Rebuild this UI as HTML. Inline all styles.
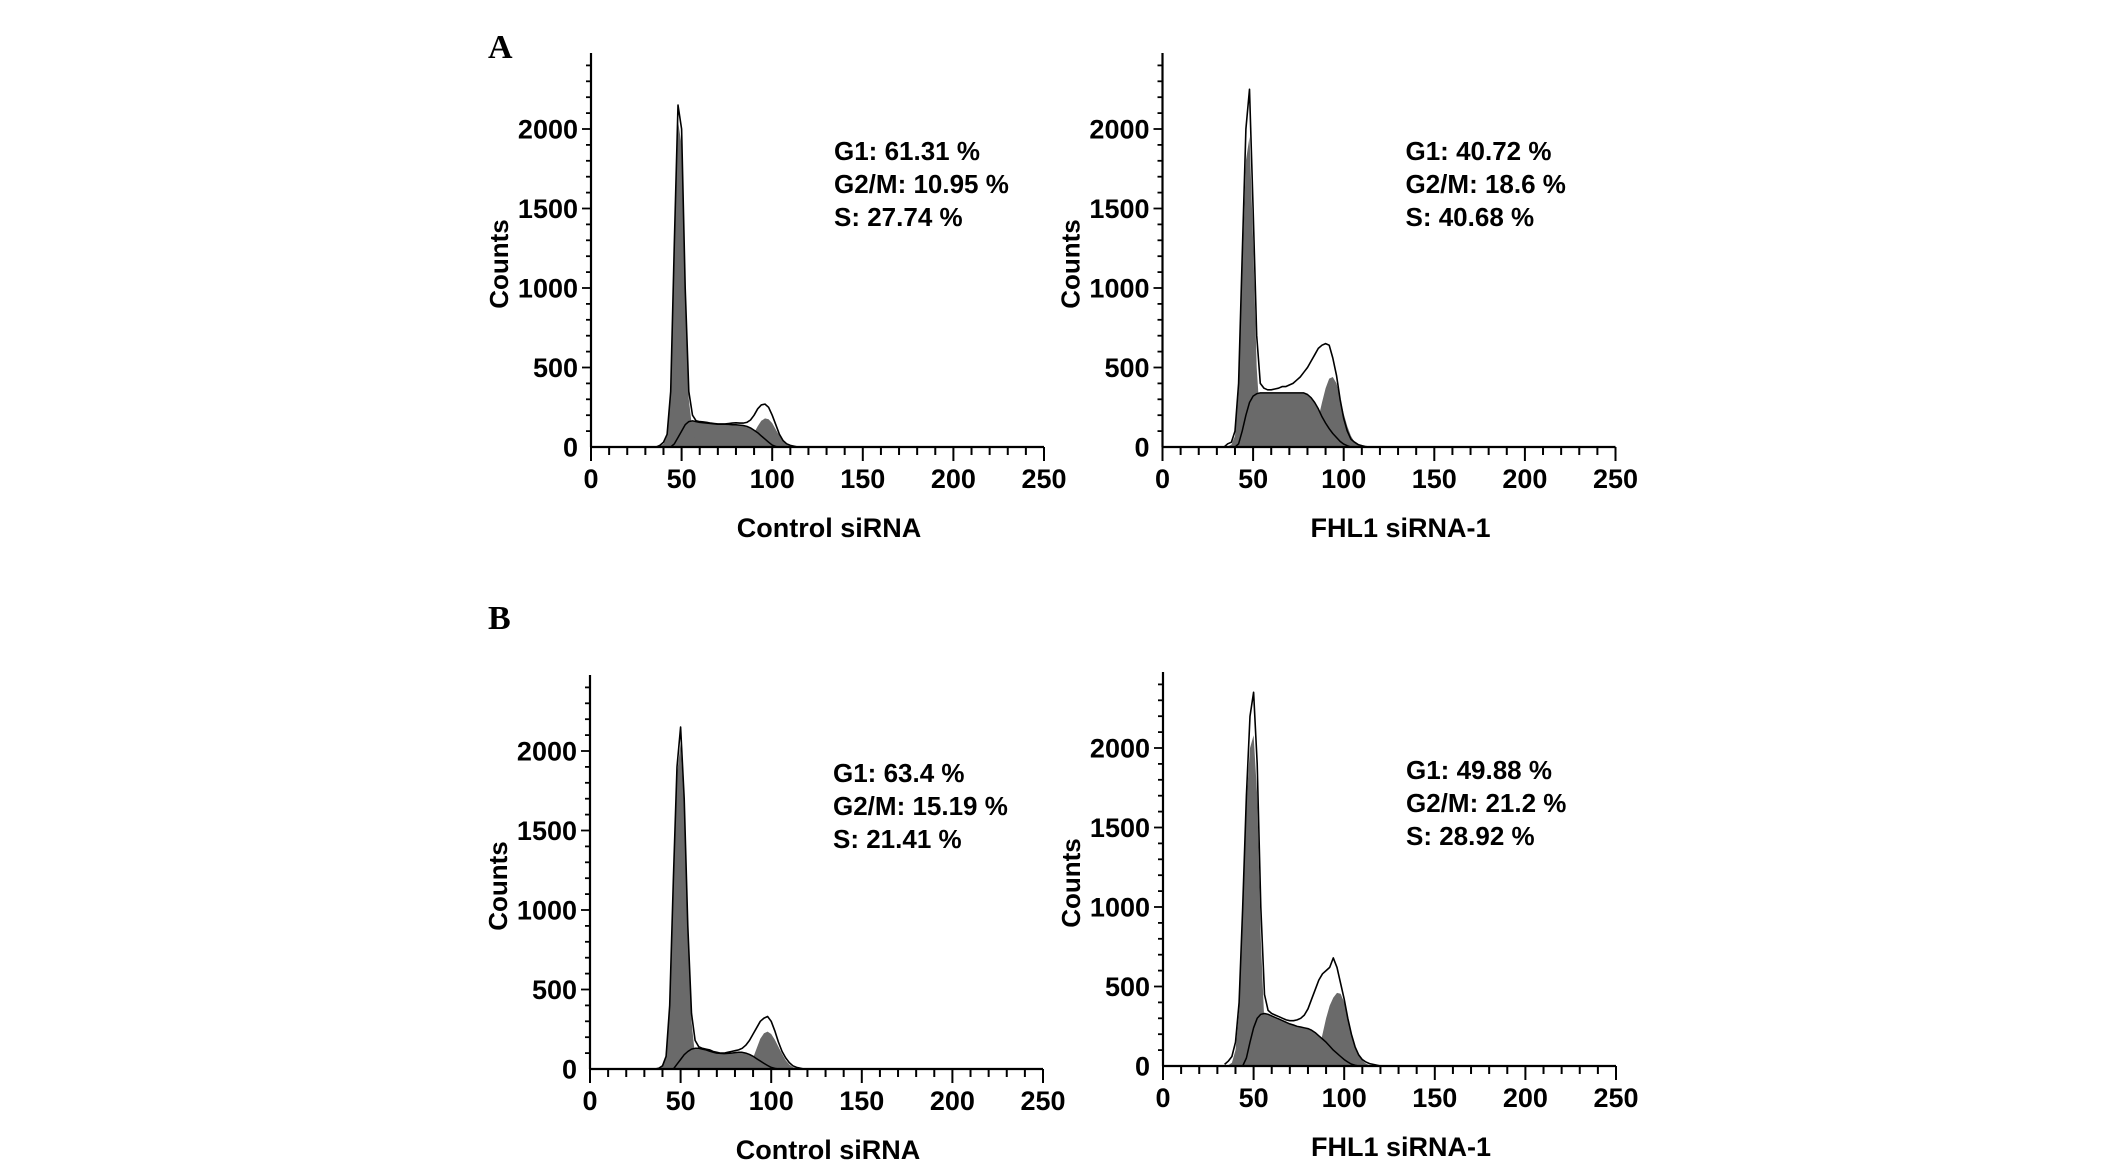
<!DOCTYPE html>
<html><head><meta charset="utf-8"><style>
html,body{margin:0;padding:0;background:#fff;}
svg text{font-family:"Liberation Sans",Arial,sans-serif;font-weight:bold;fill:#000;}
</style></head><body>
<svg id="fig" width="2126" height="1166" viewBox="0 0 2126 1166" xmlns="http://www.w3.org/2000/svg">
<text x="488" y="58" style="font-family:'Liberation Serif',serif;font-size:34px">A</text>
<text x="488" y="629" style="font-family:'Liberation Serif',serif;font-size:34px">B</text>
</svg>
<script>
const channels = [34,36,38,40,42,44,46,48,50,52,54,56,58,60,62,64,66,68,70,72,74,76,78,80,82,84,86,88,90,92,94,96,98,100,102,104,106,108,110,112,114,116,118,120];
const xTicks = [0,50,100,150,200,250];
const yTicks = [0,500,1000,1500,2000];

const aLeftRaw = [0,0,10,30,80,350,1300,2150,2000,1000, 350,200,165,160,158,155,150,148,145,145, 145,148,150,152,150,150,155,170,200,240, 265,270,250,200,140,80,40,20,10,5, 0,0,0,0];
const aLeftG1  = [0,0,5,20,70,330,1250,2050,1900,950, 300,100,30,5,0,0,0,0,0,0, 0,0,0,0,0,0,0,0,0,0, 0,0,0,0,0,0,0,0,0,0, 0,0,0,0];
const aLeftS   = [0,0,0,0,0,0,20,60,100,140, 160,165,160,155,152,150,148,145,143,143, 143,142,140,140,138,135,130,120,105,90, 70,50,30,12,3,0,0,0,0,0, 0,0,0,0];
const aLeftG2  = [0,0,0,0,0,0,0,0,0,0, 0,0,0,0,0,0,0,0,0,0, 0,0,0,0,0,0,20,50,90,130, 165,180,175,150,110,70,35,15,5,0, 0,0,0,0];

const aRightRaw = [0,20,30,100,400,1200,2000,2250,1500,700, 400,370,360,360,365,370,380,380,390,400, 420,440,470,500,540,580,620,640,650,640, 560,450,300,180,100,50,30,15,8,3, 0,0,0,0];
const aRightG1  = [0,5,15,70,350,1100,1800,1950,1300,500, 150,40,10,0,0,0,0,0,0,0, 0,0,0,0,0,0,0,0,0,0, 0,0,0,0,0,0,0,0,0,0, 0,0,0,0];
const aRightS   = [0,0,0,0,20,100,200,280,320,335, 340,340,340,340,340,340,340,340,340,340, 340,340,340,330,310,280,240,190,150,115, 85,60,35,18,8,0,0,0,0,0, 0,0,0,0];
const aRightG2  = [0,0,0,0,0,0,0,0,0,0, 0,0,0,0,0,0,0,0,0,0, 0,0,0,0,0,100,180,280,370,430, 440,400,310,210,130,70,30,10,3,0, 0,0,0,0];

const bLeftRaw = [0,0,5,20,80,400,1200,1900,2150,1700, 900,350,180,140,130,125,120,110,105,100, 100,105,110,115,120,130,150,180,220,260, 300,320,330,300,240,170,110,70,40,20, 10,5,0,0];
const bLeftG1  = [0,0,0,15,70,380,1150,1850,2050,1650, 850,300,80,20,5,0,0,0,0,0, 0,0,0,0,0,0,0,0,0,0, 0,0,0,0,0,0,0,0,0,0, 0,0,0,0];
const bLeftS   = [0,0,0,0,0,0,0,30,60,90, 110,125,130,130,125,120,112,105,100,98, 97,98,100,103,105,105,100,92,80,65, 50,35,22,10,4,0,0,0,0,0, 0,0,0,0];
const bLeftG2  = [0,0,0,0,0,0,0,0,0,0, 0,0,0,0,0,0,0,0,0,0, 0,0,0,0,0,0,0,30,70,130, 190,225,235,220,185,140,95,55,28,12, 5,0,0,0];

const bRightRaw = [10,30,60,150,400,1000,1700,2200,2350,1900, 1000,450,350,330,320,310,300,290,285,285, 290,300,320,360,420,480,540,580,600,620, 680,620,520,420,300,200,120,70,40,25, 15,10,5,0];
const bRightG1  = [0,5,20,100,350,950,1650,2000,2080,1700, 800,250,60,10,0,0,0,0,0,0, 0,0,0,0,0,0,0,0,0,0, 0,0,0,0,0,0,0,0,0,0, 0,0,0,0];
const bRightS   = [0,0,0,0,0,0,50,150,240,300, 325,330,325,315,305,295,285,275,265,258, 250,245,240,235,225,210,190,170,150,125, 100,80,60,40,25,12,5,0,0,0, 0,0,0,0];
const bRightG2  = [0,0,0,0,0,0,0,0,0,0, 0,0,0,0,0,0,0,0,0,0, 0,0,0,0,0,0,100,200,300,380, 430,460,455,400,310,210,130,70,35,15, 5,0,0,0];

const panelTitles = ["Control siRNA","FHL1 siRNA-1","Control siRNA","FHL1 siRNA-1"];
const panelStats = [
  ["G1: 61.31 %","G2/M: 10.95 %","S: 27.74 %"],
  ["G1: 40.72 %","G2/M: 18.6 %","S: 40.68 %"],
  ["G1: 63.4 %","G2/M: 15.19 %","S: 21.41 %"],
  ["G1: 49.88 %","G2/M: 21.2 %","S: 28.92 %"]
];
const panelSeries = [
  [aLeftRaw,aLeftG1,aLeftS,aLeftG2],
  [aRightRaw,aRightG1,aRightS,aRightG2],
  [bLeftRaw,bLeftG1,bLeftS,bLeftG2],
  [bRightRaw,bRightG1,bRightS,bRightG2]
];
const panelNames = ["a-control","a-fhl1","b-control","b-fhl1"];

const svg = document.getElementById('fig');
const NS = 'http://www.w3.org/2000/svg';
const layout = [{x0:591,y0:447},{x0:1162.5,y0:447},{x0:590,y0:1069},{x0:1163,y0:1066}];
const W = 453, PX_PER = 318/2000, TOP = 394;

function mk(tag, attrs, parent){
  const e = document.createElementNS(NS, tag);
  for (const k in attrs) e.setAttribute(k, attrs[k]);
  parent.appendChild(e);
  return e;
}

layout.forEach((L, p) => {
  const g = mk('g', {}, svg);
  
  
  const xs = v => L.x0 + v / 250 * W;
  const ys = v => L.y0 - v * PX_PER;
  const [raw, g1, s, g2] = panelSeries[p];

  function area(arr, name){
    let d = 'M' + xs(channels[0]) + ',' + ys(0);
    channels.forEach((c, i) => { d += ' L' + xs(c).toFixed(1) + ',' + ys(arr[i]).toFixed(1); });
    d += ' L' + xs(channels[channels.length-1]) + ',' + ys(0) + ' Z';
    const e = mk('path', {d: d, fill: '#6a6a6a', stroke: 'none'}, g);
    
    
  }
  function line(arr, name, w){
    let d = '';
    channels.forEach((c, i) => { d += (i ? ' L' : 'M') + xs(c).toFixed(1) + ',' + ys(arr[i]).toFixed(1); });
    const e = mk('path', {d: d, fill: 'none', stroke: '#000', 'stroke-width': w, 'stroke-linejoin': 'round'}, g);
    
    
  }
  area(s, 's-phase-fill');
  area(g1, 'g1-peak-fill');
  area(g2, 'g2m-peak-fill');
  line(s, 's-phase-curve', 1.5);
  line(raw, 'raw-data-outline', 1.6);

  const ya = mk('line', {x1: L.x0, y1: L.y0 - TOP, x2: L.x0, y2: L.y0, stroke: '#000', 'stroke-width': 2.2}, g);
  
  
  const xa = mk('line', {x1: L.x0, y1: L.y0, x2: L.x0 + W, y2: L.y0, stroke: '#000', 'stroke-width': 2.2}, g);
  
  
  for (let v = 0; v <= 250; v += 10) {
    const major = v % 50 === 0;
    mk('line', {x1: xs(v), y1: L.y0, x2: xs(v), y2: L.y0 + (major ? 14 : 8), stroke: '#000', 'stroke-width': 2}, g);
  }
  for (let v = 100; v <= 2400; v += 100) {
    const major = v % 500 === 0;
    mk('line', {x1: L.x0, y1: ys(v), x2: L.x0 - (major ? 9 : 5), y2: ys(v), stroke: '#000', 'stroke-width': 1.8}, g);
  }
  xTicks.forEach(v => {
    const t = mk('text', {x: xs(v), y: L.y0 + 41, 'text-anchor': 'middle', 'font-size': 27}, g);
    t.textContent = v;
    
    
  });
  yTicks.forEach(v => {
    const t = mk('text', {x: L.x0 - 13, y: ys(v) + 9.5, 'text-anchor': 'end', 'font-size': 27}, g);
    t.textContent = v;
    
    
  });
  const xt = mk('text', {x: L.x0 + 238, y: L.y0 + 90, 'text-anchor': 'middle', 'font-size': 27}, g);
  xt.textContent = panelTitles[p];
  
  
  const cy = L.y0 - 183, cx = L.x0 - 92;
  const yt = mk('text', {x: cx, y: cy + 9, 'text-anchor': 'middle', 'font-size': 26, transform: 'rotate(-90 ' + cx + ' ' + cy + ')'}, g);
  yt.textContent = 'Counts';
  
  
  const offs = [-287, -254, -221];
  panelStats[p].forEach((str, i) => {
    const t = mk('text', {x: L.x0 + 243, y: L.y0 + offs[i], 'font-size': 26}, g);
    t.textContent = str;
    
    
  });
});
</script>
</body></html>
